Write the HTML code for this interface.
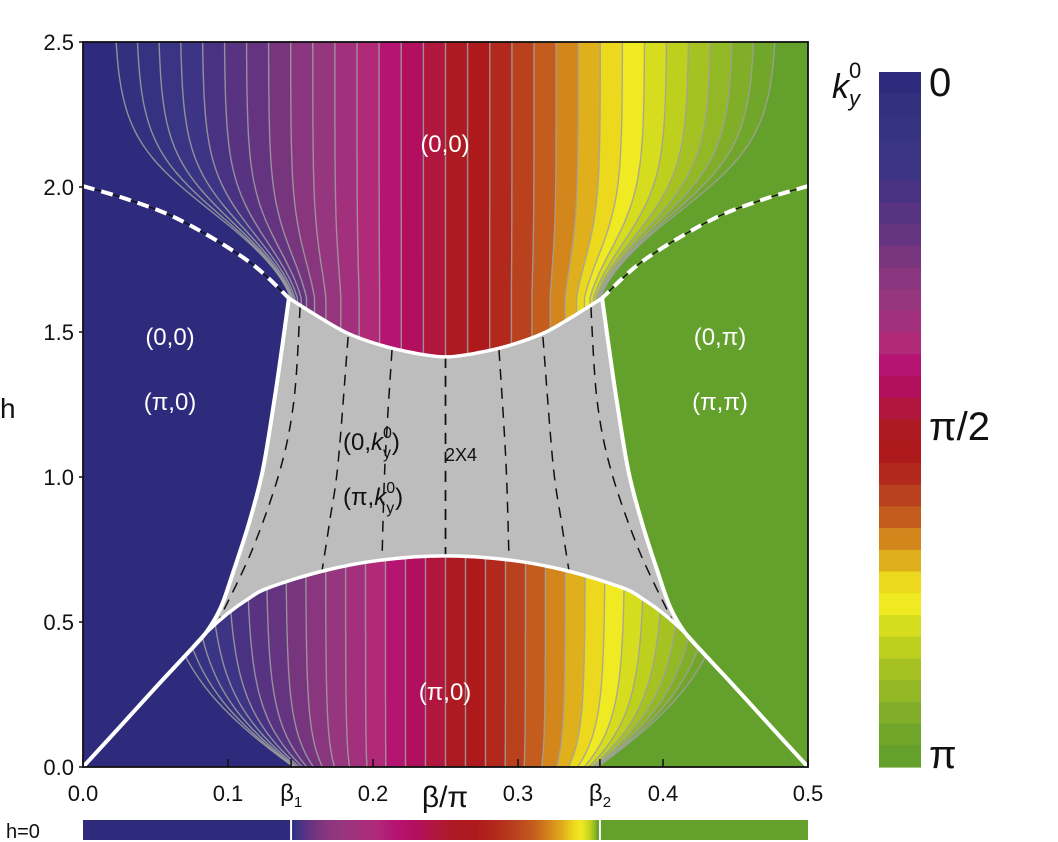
<!DOCTYPE html>
<html><head><meta charset="utf-8"><style>
html,body{margin:0;padding:0;background:#fff;}
svg{display:block;font-family:"Liberation Sans",sans-serif;}
</style></head><body>
<svg id="chart" width="1058" height="842" viewBox="0 0 1058 842" xmlns="http://www.w3.org/2000/svg">
<defs>
<clipPath id="plotClip"><rect x="83" y="42" width="725" height="725"/></clipPath>
<clipPath id="topClip"><path id="topClipPath" d=""/></clipPath>
<clipPath id="botClip"><path id="botClipPath" d=""/></clipPath>
<linearGradient id="h0grad" gradientUnits="userSpaceOnUse" x1="0" y1="0" x2="1058" y2="0"></linearGradient>
</defs>
<g id="plot" clip-path="url(#plotClip)"></g>
<g id="overlay"></g>
<g id="axes"></g>
<g id="labels" font-size="24">
<text x="445" y="152" fill="#fff" text-anchor="middle">(0,0)</text>
<text x="170" y="345" fill="#fff" text-anchor="middle">(0,0)</text>
<text x="170" y="410" fill="#fff" text-anchor="middle">(π,0)</text>
<text x="720" y="345" fill="#fff" text-anchor="middle">(0,π)</text>
<text x="720" y="410" fill="#fff" text-anchor="middle">(π,π)</text>
<text x="445" y="700" fill="#fff" text-anchor="middle">(π,0)</text>
<text x="343" y="450" fill="#111">(0,<tspan font-style="italic">k</tspan><tspan font-size="16" dy="8">y</tspan><tspan font-size="16" dx="-8" dy="-20">0</tspan><tspan dy="12">)</tspan></text>
<text x="343" y="505" fill="#111">(π,<tspan font-style="italic">k</tspan><tspan font-size="16" dy="8">y</tspan><tspan font-size="16" dx="-8" dy="-20">0</tspan><tspan dy="12">)</tspan></text>
<text x="445" y="461" fill="#111" font-size="18">2X4</text>
</g>
<g id="cbar"></g>
<g id="h0bar"></g>
</svg>
<script>
const NS="http://www.w3.org/2000/svg";
const colors=["#2e2a7c","#32307f","#353282","#3a3484","#3e3485","#4a3283","#573382","#653481","#77357e","#8a367e","#96367e","#a3307c","#b02a78","#b51472","#b30f5f","#b0163e","#ae1a22","#ae1a1c","#b2281c","#b9411d","#c45c1e","#d3861c","#e0b01c","#ecd81c","#f0ea22","#d6dc1e","#bed01e","#a6c222","#92b826","#80ae28","#70a62a","#64a02c"];
const levels=[1,2,3,4,5,6,7,8,9,10,11,12,13,14,15,16,17,18,19,20,21,22,23,24,25,26,27,28,29,30,31].map(k=>k/32);
const xTicks=[0.0,0.1,0.2,0.3,0.4,0.5];
const xTickLabels=["0.0","0.1","0.2","0.3","0.4","0.5"];
const yTicks=[0.0,0.5,1.0,1.5,2.0,2.5];
const yTickLabels=["0.0","0.5","1.0","1.5","2.0","2.5"];
const beta1=0.1435, beta2=0.3565;
const leftCurve=[[0,0],[0.0255,0.139],[0.051,0.279],[0.0735,0.40],[0.0855,0.468],[0.095,0.55],[0.1034,0.669],[0.115,0.85],[0.124,1.024],[0.132,1.266],[0.138,1.472],[0.142,1.617]];
const topArc=[[0.142,1.617],[0.16,1.56],[0.182,1.497],[0.205,1.455],[0.228,1.428],[0.25,1.414]];
const lowArc=[[0.0735,0.40],[0.0855,0.466],[0.1,0.53],[0.114,0.58],[0.128,0.618],[0.1655,0.676],[0.205,0.713],[0.25,0.728]];
const dashTop=[[0,2.003],[0.032,1.955],[0.067,1.886],[0.113,1.748],[0.142,1.617]];
const dashLines=[
 [[0.1497,1.586],[0.1455,1.266],[0.1359,1.024],[0.1166,0.748],[0.094,0.51]],
 [[0.1828,1.483],[0.1759,1.048],[0.1703,0.852],[0.1648,0.676]],
 [[0.2131,1.438],[0.2083,1.048],[0.2062,0.716]],
 [[0.25,1.414],[0.25,0.728]]
];
const X0=83,X1=808,Y0=767,Y1=42;
const sx=b=>X0+b/0.5*(X1-X0);
const sy=h=>Y0-h/2.5*(Y0-Y1);
const mir=p=>[0.5-p[0],p[1]];
const P=p=>[sx(p[0]),sy(p[1])];
function mk(tag,attrs,parent){const e=document.createElementNS(NS,tag);for(const k in attrs)e.setAttribute(k,attrs[k]);(parent||svg).appendChild(e);return e;}
const svg=document.getElementById('chart');
function smooth(pts){
 let d=`M${pts[0][0].toFixed(1)},${pts[0][1].toFixed(1)}`;
 for(let i=0;i<pts.length-1;i++){const p0=pts[i-1]||pts[i],p1=pts[i],p2=pts[i+1],p3=pts[i+2]||p2;
  const c1=[p1[0]+(p2[0]-p0[0])/6,p1[1]+(p2[1]-p0[1])/6],c2=[p2[0]-(p3[0]-p1[0])/6,p2[1]-(p3[1]-p1[1])/6];
  d+=`C${c1[0].toFixed(1)},${c1[1].toFixed(1)} ${c2[0].toFixed(1)},${c2[1].toFixed(1)} ${p2[0].toFixed(1)},${p2[1].toFixed(1)}`;}
 return d;}
function densify(pts){
 const out=[];for(let i=0;i<pts.length-1;i++){const p0=pts[i-1]||pts[i],p1=pts[i],p2=pts[i+1],p3=pts[i+2]||p2;
  for(let t=0;t<1;t+=0.1){const t2=t*t,t3=t2*t;
   out.push([0.5*((2*p1[0])+(-p0[0]+p2[0])*t+(2*p0[0]-5*p1[0]+4*p2[0]-p3[0])*t2+(-p0[0]+3*p1[0]-3*p2[0]+p3[0])*t3),
             0.5*((2*p1[1])+(-p0[1]+p2[1])*t+(2*p0[1]-5*p1[1]+4*p2[1]-p3[1])*t2+(-p0[1]+3*p1[1]-3*p2[1]+p3[1])*t3)]);}}
 out.push(pts[pts.length-1]);return out;}
const poly=pts=>'M'+pts.map(p=>p[0].toFixed(1)+','+p[1].toFixed(1)).join('L')+'Z';
const cx=sx(0.25);
const LC=densify(leftCurve.map(P));
const TA=densify(topArc.map(P));
const LA=densify(lowArc.map(P));
const DT=densify(dashTop.map(P));
const mirPx=p=>[2*cx-p[0],p[1]];
const plot=document.getElementById('plot');
mk('rect',{x:X0,y:Y1,width:cx-X0,height:Y0-Y1,fill:colors[0],},plot);
mk('rect',{x:cx,y:Y1,width:X1-cx,height:Y0-Y1,fill:colors[31],},plot);
const ySplit=sy(0.40);
const LCtop=LC.filter(p=>p[1]<=ySplit+0.5);
const gp=[];TA.forEach(p=>gp.push(p));TA.slice().reverse().forEach(p=>gp.push(mirPx(p)));
LCtop.slice().reverse().forEach(p=>gp.push(mirPx(p)));LA.forEach(p=>gp.push(mirPx(p)));
LA.slice().reverse().forEach(p=>gp.push(p));LCtop.forEach(p=>gp.push(p));
mk('path',{d:poly(gp),fill:'#bdbdbd',},plot);
const tp=[[X0,Y1-2],[X0,sy(2.003)],...DT,...TA,...TA.slice().reverse().map(mirPx),...DT.slice().reverse().map(mirPx),[X1,sy(2.003)],[X1,Y1-2]];
document.getElementById('topClipPath').setAttribute('d',poly(tp));
const LClow=LC.filter(p=>p[1]>=ySplit-0.5);
const bp=[...LClow,...LA,...LA.slice().reverse().map(mirPx),...LClow.slice().reverse().map(mirPx)];
document.getElementById('botClipPath').setAttribute('d',poly(bp));
const soft=(d,W)=>d/Math.pow(1+Math.pow(Math.abs(d)/W,4),0.25);
const yCorner=sy(1.617);
const Wtop=y=>{const u=Math.max(0,yCorner-y);return (cx-sx(0.142))+0.4*u+0.008*u*u;};
const Wbot=y=>(cx-sx(beta1))+(Y0-y)*1.5;
function drawRegion(clipId,spanPx,Wf,ya,yb,name){
 const g=mk('g',{'clip-path':`url(#${clipId})`},plot);
 
 
 const ys=[];for(let y=ya;y<=yb;y+=2)ys.push(y);
 const lineX=(lev,y)=>cx+soft((lev-0.5)*spanPx,Wf(y));
 for(let i=0;i<colors.length;i++){
  const L=ys.map(y=>[i===0?X0-5:lineX(levels[i-1],y),y]);
  const R=ys.map(y=>[i===colors.length-1?X1+5:lineX(levels[i],y),y]);
  const b=mk('path',{d:poly([...L,...R.reverse()]),fill:colors[i],stroke:colors[i],'stroke-width':0.6},g);
  
  
 }
 levels.forEach((lev,k)=>{
  const pts=ys.map(y=>[lineX(lev,y),y]);
  const l=mk('path',{d:'M'+pts.map(p=>p[0].toFixed(1)+','+p[1].toFixed(1)).join('L'),fill:'none',stroke:'#a0a0a0','stroke-width':1.4,'stroke-opacity':0.85},g);
  
  
 });
}
drawRegion('topClip',22.13*32,Wtop,Y1-2,sy(1.40),'top-colored-region');
drawRegion('botClip',20*32,Wbot,sy(0.74),Y0+2,'bottom-colored-region');
const ov=document.getElementById('overlay');
dashLines.forEach((dl,i)=>{[dl,dl.map(mir)].forEach((pts,j)=>{
 const e=mk('path',{d:smooth(pts.map(P)),fill:'none',stroke:'#111','stroke-width':1.5,'stroke-dasharray':'11 8'},ov);
 
 });});
const wc=[[leftCurve,4],[leftCurve.map(mir),4],[topArc.concat(topArc.slice(0,-1).reverse().map(mir)),3.5],[lowArc.concat(lowArc.slice(0,-1).reverse().map(mir)),3.5]];
wc.forEach((c,i)=>{const e=mk('path',{d:smooth(c[0].map(P)),fill:'none',stroke:'#fff','stroke-width':c[1]},ov);
 
 });
[dashTop,dashTop.map(mir)].forEach((c,i)=>{
 const d=smooth(c.map(P));
 mk('path',{d,fill:'none',stroke:'#111','stroke-width':1.3},ov);
 const e=mk('path',{d,fill:'none',stroke:'#fff','stroke-width':4,'stroke-dasharray':'12 7'},ov);
 
 });
const ax=document.getElementById('axes');
mk('rect',{x:X0,y:Y1,width:X1-X0,height:Y0-Y1,fill:'none',stroke:'#111','stroke-width':1.8},ax);
yTicks.forEach((v,i)=>{mk('line',{x1:X0-4,x2:X0,y1:sy(v),y2:sy(v),stroke:'#111','stroke-width':1.5},ax);
 const t=mk('text',{x:X0-9,y:sy(v)+8,'font-size':22,'text-anchor':'end',fill:'#111'},ax);t.textContent=yTickLabels[i];
 });
xTicks.forEach((v,i)=>{mk('line',{x1:sx(v),x2:sx(v),y1:Y0,y2:Y0-8,stroke:'#111','stroke-width':1.5},ax);
 const t=mk('text',{x:sx(v),y:Y0+34,'font-size':22,'text-anchor':'middle',fill:'#111'},ax);t.textContent=xTickLabels[i];
 });
[[beta1,'1'],[beta2,'2']].forEach(([b,s])=>{mk('line',{x1:sx(b),x2:sx(b),y1:Y0,y2:Y0-8,stroke:'#111','stroke-width':1.5},ax);
 const t=mk('text',{x:sx(b)-11,y:Y0+34,'font-size':24,fill:'#111'},ax);t.innerHTML='β<tspan font-size="15" dy="6">'+s+'</tspan>';
 });
let t=mk('text',{x:445,y:Y0+40,'font-size':30,'text-anchor':'middle',fill:'#111'},ax);t.textContent='β/π';

t=mk('text',{x:0,y:418,'font-size':28,fill:'#111'},ax);t.textContent='h';

const cb=document.getElementById('cbar');
const cbY0=72,cbY1=767,bh=(cbY1-cbY0)/colors.length;
colors.forEach((c,i)=>{const r=mk('rect',{x:879,y:cbY0+i*bh,width:42,height:bh+0.6,fill:c},cb);
 });
[['0',96],['π/2',440],['π',768]].forEach(([s,y])=>{const e=mk('text',{x:929,y:y,'font-size':40,fill:'#111'},cb);e.textContent=s;
 });
t=mk('text',{x:832,y:98,'font-size':34,fill:'#111','font-style':'italic'},cb);t.innerHTML='k<tspan font-size="22" dy="8">y</tspan><tspan font-size="22" font-style="normal" dx="-11" dy="-28">0</tspan>';

const hb=document.getElementById('h0bar');
const grad=document.getElementById('h0grad');
const xb1=sx(beta1),xb2=sx(beta2);
colors.forEach((c,i)=>{const lo=i===0?-0.5:(levels[i-1]-0.5),hi=i===colors.length-1?0.5:(levels[i]-0.5);
 const xm=cx+soft((lo+hi)/2*640,cx-xb1);mk('stop',{offset:(xm/1058).toFixed(4),'stop-color':c},grad);});
mk('rect',{x:X0,y:820,width:xb1-X0,height:20,fill:colors[0],},hb);
mk('rect',{x:xb1,y:820,width:xb2-xb1,height:20,fill:'url(#h0grad)',},hb);
mk('rect',{x:xb2,y:820,width:X1-xb2,height:20,fill:colors[31],},hb);
mk('line',{x1:xb1,x2:xb1,y1:820,y2:840,stroke:'#fff','stroke-width':2},hb);
mk('line',{x1:xb2,x2:xb2,y1:820,y2:840,stroke:'#fff','stroke-width':2},hb);
t=mk('text',{x:6,y:838,'font-size':20,fill:'#111'},hb);t.textContent='h=0';

</script>
</body></html>
